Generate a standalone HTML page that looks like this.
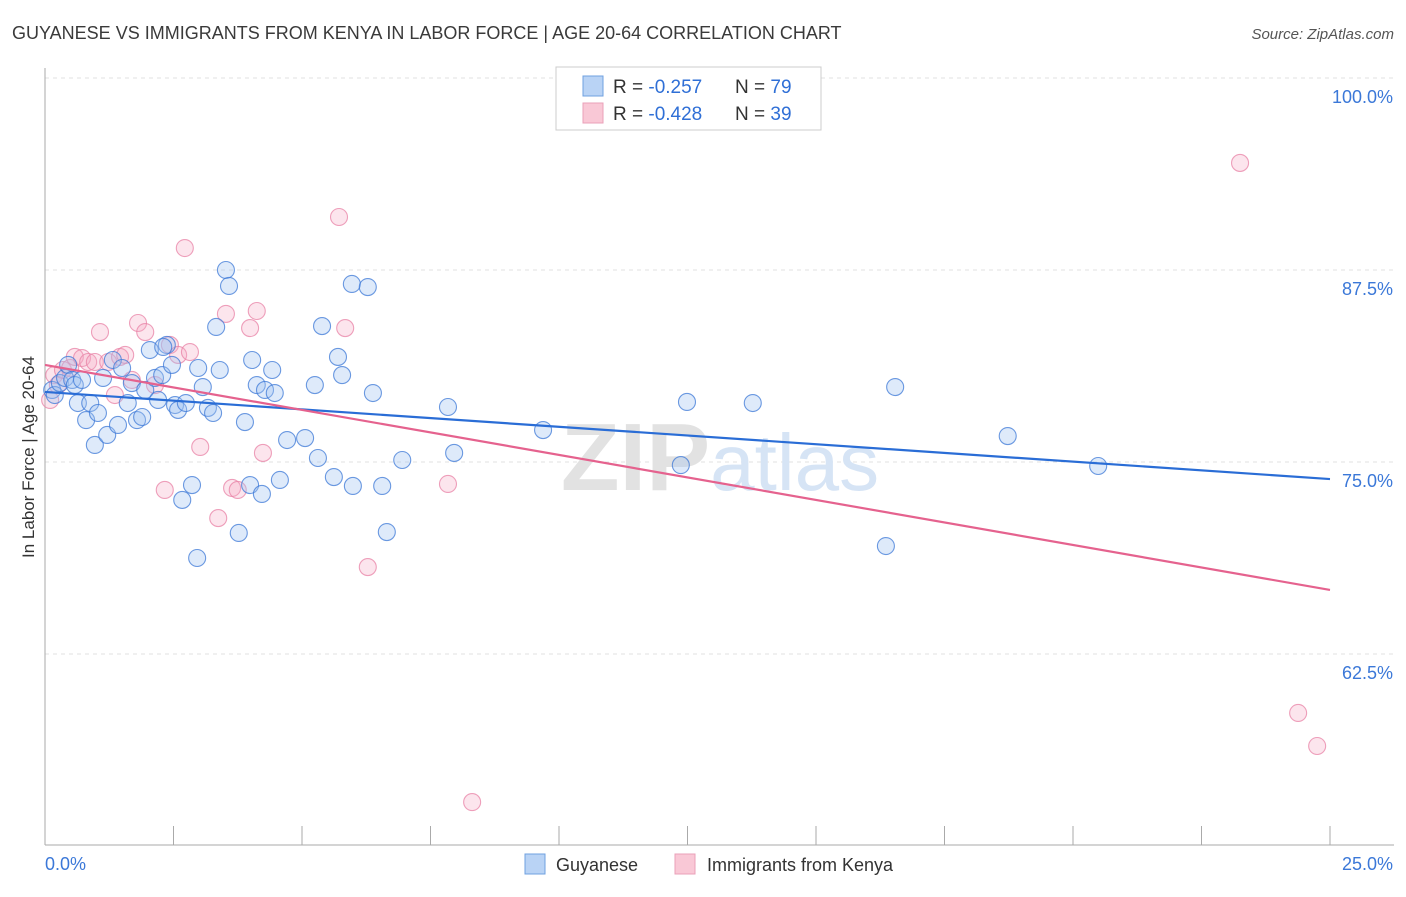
<!DOCTYPE html>
<html><head><meta charset="utf-8"><style>
body{margin:0;background:#fff;font-family:"Liberation Sans",sans-serif;}
svg text{font-family:"Liberation Sans",sans-serif;}
</style></head><body>
<svg id="chart" width="1406" height="892" xmlns="http://www.w3.org/2000/svg">
<text x="12" y="39" font-size="18" fill="#3a3a3a">GUYANESE VS IMMIGRANTS FROM KENYA IN LABOR FORCE | AGE 20-64 CORRELATION CHART</text>
<text x="1394" y="39" font-size="15" fill="#555" text-anchor="end" font-style="italic">Source: ZipAtlas.com</text>
<text transform="translate(34,457) rotate(-90)" font-size="17" fill="#333" text-anchor="middle">In Labor Force | Age 20-64</text>
<g id="grid"></g>
<g id="axes"></g>
<text x="720" y="490" font-size="96" text-anchor="middle" fill="#e8e8e8" font-family="Liberation Serif"><tspan font-weight="bold" fill="#e2e2e2">ZIP</tspan><tspan fill="#d6e4f5" font-family="Liberation Sans" font-size="80">atlas</tspan></text>
<g id="pts"></g>
<g id="trend"></g>
<g>
<rect x="556" y="67" width="265" height="63" fill="#fff" stroke="#ccc"/>
<rect x="583" y="76" width="20" height="20" fill="#b9d3f5" stroke="#6fa0e0"/>
<rect x="583" y="103" width="20" height="20" fill="#f9c8d6" stroke="#eaa0b8"/>
<text x="613" y="93" font-size="19" fill="#333">R = <tspan fill="#2f6fd6">-0.257</tspan></text>
<text x="735" y="93" font-size="19" fill="#333">N = <tspan fill="#2f6fd6">79</tspan></text>
<text x="613" y="120" font-size="19" fill="#333">R = <tspan fill="#2f6fd6">-0.428</tspan></text>
<text x="735" y="120" font-size="19" fill="#333">N = <tspan fill="#2f6fd6">39</tspan></text>
</g>
<g>
<rect x="525" y="854" width="20" height="20" fill="#b9d3f5" stroke="#6fa0e0"/>
<text x="556" y="871" font-size="18" fill="#333">Guyanese</text>
<rect x="675" y="854" width="20" height="20" fill="#f9c8d6" stroke="#eaa0b8"/>
<text x="707" y="871" font-size="18" fill="#333">Immigrants from Kenya</text>
</g>
</svg>
<script>
const blueX=[0.14,0.19,0.29,0.39,0.45,0.53,0.58,0.64,0.72,0.80,0.88,0.97,1.03,1.13,1.21,1.32,1.42,1.50,1.61,1.69,1.79,1.89,1.95,2.04,2.14,2.20,2.28,2.37,2.47,2.53,2.59,2.67,2.74,2.86,2.96,2.98,3.07,3.17,3.27,3.33,3.40,3.52,3.58,3.89,3.99,4.03,4.12,4.22,4.28,4.42,4.47,4.57,4.71,5.06,5.25,5.31,5.39,5.62,5.70,5.78,5.97,5.99,6.28,6.38,6.56,6.65,6.95,7.84,7.96,9.69,12.37,12.49,13.77,16.36,16.54,18.73,20.49,3.77,2.30];
const blueY=[79.69,79.36,80.14,80.47,81.32,80.34,80.01,78.84,80.34,77.73,78.84,76.11,78.19,80.47,76.76,81.64,77.41,81.12,78.84,80.14,77.73,77.93,79.69,82.29,80.47,79.04,80.66,82.62,81.32,78.71,78.39,72.53,78.84,73.50,68.75,81.12,79.88,78.52,78.19,83.79,80.99,87.50,86.46,77.60,73.50,81.64,80.01,72.92,79.69,80.99,79.49,73.83,76.43,76.56,80.01,75.26,83.85,74.02,81.84,80.66,86.59,73.44,86.39,79.49,73.44,70.44,75.13,78.58,75.59,77.08,74.80,78.91,78.84,69.53,79.88,76.69,74.74,70.38,82.49];
const pinkX=[0.10,0.18,0.25,0.35,0.49,0.58,0.72,0.84,0.97,1.07,1.23,1.36,1.46,1.56,1.69,1.81,1.95,2.14,2.33,2.43,2.59,2.72,2.82,3.02,3.37,3.52,3.64,3.75,3.99,4.12,4.24,5.72,5.84,6.28,7.84,8.31,23.25,24.38,24.75];
const pinkY=[79.04,80.66,80.01,80.99,81.12,81.84,81.77,81.51,81.51,83.46,81.51,79.36,81.84,81.97,80.34,84.05,83.46,80.01,73.18,82.62,81.97,88.93,82.16,75.98,71.35,84.64,73.31,73.18,83.72,84.83,75.59,90.95,83.72,68.16,73.57,52.86,94.47,58.66,56.51];
const trendBlue=[79.56,73.89];
const trendPink=[81.32,66.67];
const yTicks=[100,87.5,75,62.5];
const yTickLabels=["100.0%","87.5%","75.0%","62.5%"];
const xLabels=["0.0%","25.0%"];
const NS="http://www.w3.org/2000/svg";
const X=v=>45+v/25*1285;
const Y=v=>78+(100-v)/12.5*192;
function mk(t,a,p){const e=document.createElementNS(NS,t);for(const k in a)e.setAttribute(k,a[k]);p.appendChild(e);return e;}
const grid=document.getElementById('grid'),axes=document.getElementById('axes');
yTicks.forEach((t,i)=>{
 const l=mk('line',{x1:45,x2:1394,y1:Y(t),y2:Y(t),stroke:'#e0e0e0','stroke-dasharray':'4,4'},grid);
 
 
 const tx=mk('text',{x:1393,y:Y(t)+25,'font-size':18,fill:'#3b78d8','text-anchor':'end'},axes);
 tx.textContent=yTickLabels[i];
 
 
});
mk('line',{x1:45,x2:45,y1:68,y2:845,stroke:'#aaa'},axes);
mk('line',{x1:45,x2:1394,y1:845,y2:845,stroke:'#aaa'},axes);
for(let i=0;i<=10;i++){mk('line',{x1:X(i*2.5),x2:X(i*2.5),y1:826,y2:845,stroke:'#aaa'},axes);}
const xl0=mk('text',{x:45,y:870,'font-size':18,fill:'#3b78d8'},axes);xl0.textContent=xLabels[0];


const xl1=mk('text',{x:1393,y:870,'font-size':18,fill:'#3b78d8','text-anchor':'end'},axes);xl1.textContent=xLabels[1];


const pts=document.getElementById('pts');
pinkX.forEach((x,i)=>{const c=mk('circle',{cx:X(x),cy:Y(pinkY[i]),r:8.5,fill:'rgba(245,170,195,0.3)',stroke:'rgba(232,130,165,0.75)','stroke-width':1.1},pts);
 
 });
blueX.forEach((x,i)=>{const c=mk('circle',{cx:X(x),cy:Y(blueY[i]),r:8.5,fill:'rgba(160,195,240,0.35)',stroke:'rgba(60,120,215,0.75)','stroke-width':1.1},pts);
 
 });
const tr=document.getElementById('trend');
const lb=mk('line',{x1:X(0),y1:Y(trendBlue[0]),x2:X(25),y2:Y(trendBlue[1]),stroke:'#2a6dd6','stroke-width':2.2},tr);


const lp=mk('line',{x1:X(0),y1:Y(trendPink[0]),x2:X(25),y2:Y(trendPink[1]),stroke:'#e5628e','stroke-width':2.2},tr);


</script>
</body></html>
